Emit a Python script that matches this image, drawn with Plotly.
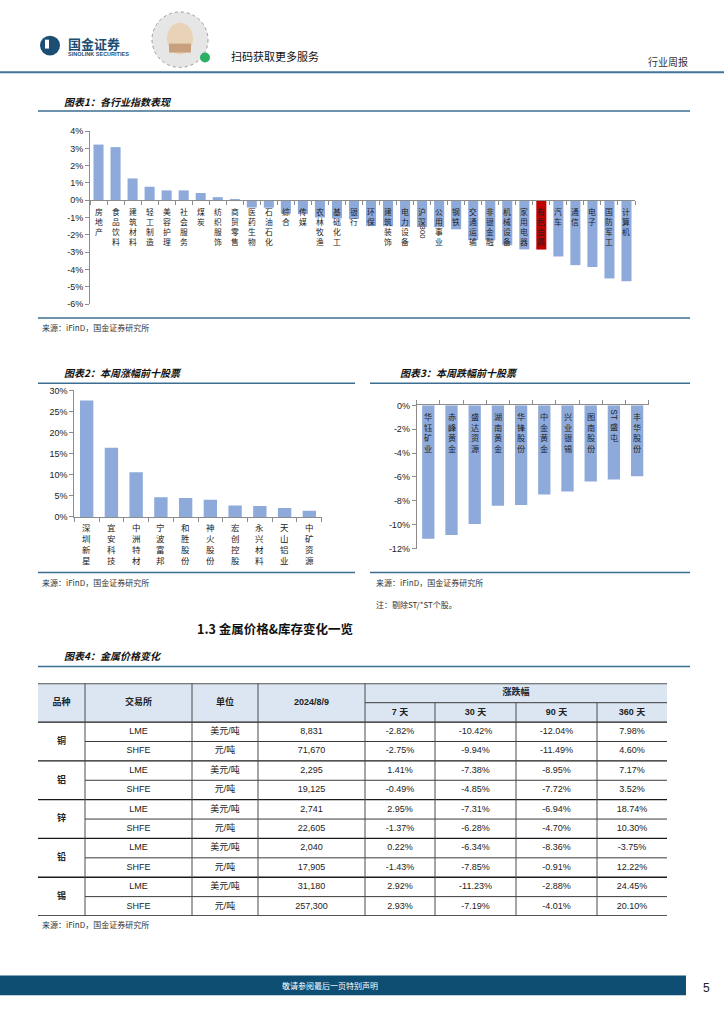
import re
import plotly.graph_objects as go

W, H = 724, 1024

# ---------------- data ----------------
ind_names = ["房地产", "食品饮料", "建筑材料", "轻工制造", "美容护理", "社会服务", "煤炭", "纺织服饰",
             "商贸零售", "医药生物", "石油石化", "综合", "传媒", "农林牧渔", "基础化工", "银行",
             "环保", "建筑装饰", "电力设备", "沪深300", "公用事业", "钢铁", "交通运输", "非银金融",
             "机械设备", "家用电器", "有色金属", "汽车", "通信", "电子", "国防军工", "计算机"]
ind_values = [3.22, 3.07, 1.26, 0.78, 0.57, 0.57, 0.42, 0.18,
              0.06, -0.42, -0.43, -0.78, -0.80, -1.00, -1.05, -1.08,
              -1.48, -1.50, -1.54, -1.55, -1.56, -1.68, -2.30, -2.31,
              -2.60, -2.84, -2.85, -3.25, -3.75, -3.86, -4.52, -4.68]
highlight_name = "有色金属"
ind_ticks = [4, 3, 2, 1, 0, -1, -2, -3, -4, -5, -6]

up_names = ["深圳新星", "宜安科技", "中洲特材", "宁波富邦", "和胜股份", "神火股份", "宏创控股",
            "永兴材料", "天山铝业", "中矿资源"]
up_values = [27.6, 16.4, 10.6, 4.7, 4.5, 4.1, 2.7, 2.6, 2.1, 1.5]
up_ticks = [0, 5, 10, 15, 20, 25, 30]

down_names = ["华钰矿业", "赤峰黄金", "盛达资源", "湖南黄金", "华锋股份", "中金黄金", "兴业银锡",
              "图南股份", "ST盛屯", "丰华股份"]
down_values = [-11.17, -10.85, -9.93, -8.40, -8.35, -7.46, -7.22, -6.38, -6.22, -5.93]
down_ticks = [0, -2, -4, -6, -8, -10, -12]

metals = ["铜", "铝", "锌", "铅", "锡"]
exchanges = ["LME", "SHFE", "LME", "SHFE", "LME", "SHFE", "LME", "SHFE", "LME", "SHFE"]
units = ["美元/吨", "元/吨", "美元/吨", "元/吨", "美元/吨", "元/吨", "美元/吨", "元/吨", "美元/吨", "元/吨"]
prices = [8831, 71670, 2295, 19125, 2741, 22605, 2040, 17905, 31180, 257300]
chg_7d = [-2.82, -2.75, 1.41, -0.49, 2.95, -1.37, 0.22, -1.43, 2.92, 2.93]
chg_30d = [-10.42, -9.94, -7.38, -4.85, -7.31, -6.28, -6.34, -7.85, -11.23, -7.19]
chg_90d = [-12.04, -11.49, -8.95, -7.72, -6.94, -4.70, -8.36, -0.91, -2.88, -4.01]
chg_360d = [7.98, 4.60, 7.17, 3.52, 18.74, 10.30, -3.75, 12.22, 24.45, 20.10]
head_left = ["品种", "交易所", "单位", "2024/8/9"]
head_group = "涨跌幅"
head_periods = ["7 天", "30 天", "90 天", "360 天"]

# ---------------- helpers ----------------
CJK = "Noto Sans CJK SC"
LAT = "Liberation Sans, Noto Sans CJK SC"
BAR = "#8EAADB"
RED = "#C00000"
LINE_BLUE = "#3C6E91"
AXC = "#8C8C8C"
TXT = "#222222"


def px(x):
    return x / W


def py(y):
    return 1 - y / H


fig = go.Figure()
shapes = []
anns = []


def hline(y, x0, x1, color=LINE_BLUE, width=1.5):
    shapes.append(dict(type="line", xref="paper", yref="paper", x0=px(x0), x1=px(x1),
                       y0=py(y), y1=py(y), line=dict(color=color, width=width)))


def text(x, y, s, size=9, color=TXT, anchor="left", bold=False, italic=False, family=CJK):
    f = dict(size=size, color=color, family=family)
    if bold:
        f["weight"] = "bold"
    if italic:
        f["style"] = "italic"
    anns.append(dict(x=px(x), y=py(y), xref="paper", yref="paper", text=s, showarrow=False,
                     xanchor=anchor, yanchor="middle", font=f))


def vlabels(names, xref, yref, offset, size, color=TXT):
    """Vertical (stacked) category labels hanging below the zero line."""
    lh = 1.3 * size
    for n in names:
        tokens = re.findall(r"[A-Za-z0-9]+|[^A-Za-z0-9]+", n)
        top = offset - lh / 2  # top of the first character cell
        for t in tokens:
            if t.isascii():
                w = len(t) * size * 0.62
                anns.append(dict(x=n, y=0, xref=xref, yref=yref, text=t, textangle=90,
                                 showarrow=False, yanchor="middle", xanchor="center", borderpad=0,
                                 yshift=-(top + w / 2), font=dict(size=size, color=color, family=LAT)))
                top += w
            else:
                anns.append(dict(x=n, y=0, xref=xref, yref=yref, text="<br>".join(t), showarrow=False,
                                 yanchor="top", xanchor="center", borderpad=0, yshift=-top,
                                 font=dict(size=size, color=color, family=CJK)))
                top += len(t) * lh


# ---------------- header ----------------
hline(68, 0, 724, color="#3F7398", width=2)
shapes.append(dict(type="circle", xref="paper", yref="paper", x0=px(40), x1=px(60), y0=py(51), y1=py(31),
                   fillcolor="#1B4E72", line=dict(width=0)))
shapes.append(dict(type="rect", xref="paper", yref="paper", x0=px(45), x1=px(49), y0=py(44), y1=py(35),
                   fillcolor="white", line=dict(width=0)))
text(66, 39, "国金证券", size=13, color="#1B4E72", bold=True)
text(66, 49, "SINOLINK SECURITIES", size=5.5, color="#1B4E72", bold=True, family=LAT)
# QR-like badge
shapes.append(dict(type="circle", xref="paper", yref="paper", x0=px(152), x1=px(208), y0=py(63), y1=py(7),
                   fillcolor="#E6E6E6", line=dict(color="#9A9A9A", width=1, dash="dot")))
shapes.append(dict(type="circle", xref="paper", yref="paper", x0=px(167), x1=px(193), y0=py(50), y1=py(18),
                   fillcolor="#E9D3B8", line=dict(width=0)))
shapes.append(dict(type="rect", xref="paper", yref="paper", x0=px(169), x1=px(191), y0=py(48), y1=py(39),
                   fillcolor="#C9A07E", line=dict(width=0)))
shapes.append(dict(type="circle", xref="paper", yref="paper", x0=px(200), x1=px(210), y0=py(58), y1=py(48),
                   fillcolor="#2BB164", line=dict(width=0)))
text(229, 52, "扫码获取更多服务", size=11, color="#111111")
text(690, 57, "行业周报", size=10, color="#333333", anchor="right")

# ---------------- chart 1 ----------------
text(62, 97, "图表1：各行业指数表现", size=10, bold=True, italic=True, color="#111111")
hline(107, 38, 690)
hline(316, 38, 690)
text(40, 326, "来源：iFinD，国金证券研究所", size=8, color="#333333")

c1_ylo, c1_yhi = 302.0, 127.3
c1_dom = [py(c1_ylo), py(c1_yhi)]
c1_zero = c1_dom[0] + (0 - min(ind_ticks)) / (max(ind_ticks) - min(ind_ticks)) * (c1_dom[1] - c1_dom[0])
fig.add_trace(go.Bar(x=ind_names, y=ind_values, width=0.59, xaxis="x", yaxis="y",
                     marker=dict(color=[RED if n == highlight_name else BAR for n in ind_names], line=dict(width=0)),
                     hoverinfo="skip"))
vlabels(ind_names, "x", "y", offset=10, size=7.8)

# ---------------- chart 2 ----------------
text(62, 371, "图表2：本周涨幅前十股票", size=10, bold=True, italic=True, color="#111111")
hline(382, 38, 355)
hline(573, 38, 355)
text(40, 583, "来源：iFinD，国金证券研究所", size=8, color="#333333")
fig.add_trace(go.Bar(x=up_names, y=up_values, width=0.54, xaxis="x2", yaxis="y2",
                     marker=dict(color=BAR, line=dict(width=0)), hoverinfo="skip"))
vlabels(up_names, "x2", "y2", offset=9, size=8.5)

# ---------------- chart 3 ----------------
text(398, 371, "图表3：本周跌幅前十股票", size=10, bold=True, italic=True, color="#111111")
hline(382, 370, 690)
hline(573, 370, 690)
text(374, 583, "来源：iFinD，国金证券研究所", size=8, color="#333333")
text(374, 605, "注：剔除ST/*ST个股。", size=8, color="#333333")
fig.add_trace(go.Bar(x=down_names, y=down_values, width=0.53, xaxis="x3", yaxis="y3",
                     marker=dict(color=BAR, line=dict(width=0)), hoverinfo="skip"))
vlabels(down_names, "x3", "y3", offset=9, size=8.2)

# ---------------- section / table ----------------
text(275, 630, "1.3 金属价格&库存变化一览", size=12.5, bold=True, color="#111111", anchor="center")
text(62, 657, "图表4：金属价格变化", size=10, bold=True, italic=True, color="#111111")
hline(668, 38, 690)
text(40, 929, "来源：iFinD，国金证券研究所", size=8, color="#333333")

col_edges = [38, 85, 192, 258, 365, 435, 516, 597, 667]
n_rows = 2 + len(exchanges)
TX, TY = "x4", "y4"


def tshape(x0, x1, y0, y1, color="#3A3A3A", width=1, fill=None):
    d = dict(type="rect" if fill else "line", xref=TX, yref=TY, x0=x0, x1=x1, y0=y0, y1=y1,
             line=dict(color=color, width=width))
    if fill:
        d["fillcolor"] = fill
        d["line"] = dict(width=0)
        d["layer"] = "below"
    shapes.append(d)


tshape(col_edges[0], col_edges[-1], 0, 2, fill="#DCE6F2")
tshape(col_edges[0], col_edges[-1], 0, 0, color="#555555", width=2)
tshape(col_edges[4], col_edges[-1], 1, 1, color="#3A3A3A", width=1)
for r in range(2, n_rows + 1):
    if (r - 2) % 2 == 0:
        tshape(col_edges[0], col_edges[-1], r, r, color="#1A1A1A", width=1.3)
    else:
        tshape(col_edges[1], col_edges[-1], r, r, color="#3A3A3A", width=1)
for i, xe in enumerate(col_edges[1:-1], start=1):
    tshape(xe, xe, 1 if i >= 5 else 0, n_rows, color="#4A4A4A", width=1)

centers = [(col_edges[i] + col_edges[i + 1]) / 2 for i in range(len(col_edges) - 1)]
rows_y = [2.5 + i for i in range(len(exchanges))]
hdr_font = dict(size=9, color=TXT, family=LAT, weight="bold")
fig.add_trace(go.Scatter(x=centers[:4], y=[1, 1, 1, 1], text=head_left, mode="text", textfont=hdr_font,
                         xaxis=TX, yaxis=TY, hoverinfo="skip"))
fig.add_trace(go.Scatter(x=[(col_edges[4] + col_edges[-1]) / 2], y=[0.5], text=[head_group], mode="text",
                         textfont=hdr_font, xaxis=TX, yaxis=TY, hoverinfo="skip"))
fig.add_trace(go.Scatter(x=centers[4:], y=[1.5] * 4, text=head_periods, mode="text", textfont=hdr_font,
                         xaxis=TX, yaxis=TY, hoverinfo="skip"))
fig.add_trace(go.Scatter(x=[centers[0]] * len(metals), y=[3 + 2 * i for i in range(len(metals))], text=metals,
                         mode="text", textfont=hdr_font, xaxis=TX, yaxis=TY, hoverinfo="skip"))
body_font = dict(size=9, color=TXT, family=LAT)
columns = [exchanges, units, [f"{v:,}" for v in prices], [f"{v:.2f}%" for v in chg_7d],
           [f"{v:.2f}%" for v in chg_30d], [f"{v:.2f}%" for v in chg_90d], [f"{v:.2f}%" for v in chg_360d]]
for ci, col in enumerate(columns, start=1):
    fig.add_trace(go.Scatter(x=[centers[ci]] * len(col), y=rows_y, text=col, mode="text", textfont=body_font,
                             xaxis=TX, yaxis=TY, hoverinfo="skip"))

# ---------------- footer ----------------
shapes.append(dict(type="rect", xref="paper", yref="paper", x0=px(0), x1=px(686), y0=py(1000), y1=py(980),
                   fillcolor="#0D4E72", line=dict(width=0)))
text(330, 990, "敬请参阅最后一页特别声明", size=8, color="white", anchor="center")
text(706, 993, "5", size=12, color="#222222", anchor="center", family=LAT)

# ---------------- layout ----------------
tickfont = dict(size=9, color=TXT, family=LAT)
yax_common = dict(showgrid=False, zeroline=False, showline=True, linecolor=AXC, linewidth=1,
                  ticks="outside", ticklen=4, tickcolor=AXC, tickfont=tickfont, tickmode="array")
xax_common = dict(showgrid=False, zeroline=False, showline=True, linecolor=AXC, linewidth=1,
                  ticks="outside", ticklen=4, tickcolor=AXC, tickson="boundaries", showticklabels=False,
                  type="category")


def pct(ticks):
    return [f"{v}%" for v in ticks]


fig.update_layout(
    width=W, height=H, margin=dict(l=0, r=0, t=0, b=0),
    paper_bgcolor="white", plot_bgcolor="rgba(0,0,0,0)", showlegend=False,
    xaxis=dict(domain=[px(90), px(635)], anchor="free", position=c1_zero,
               range=[-0.5, len(ind_names) - 0.5], **xax_common),
    yaxis=dict(domain=c1_dom, range=[min(ind_ticks), max(ind_ticks)], tickvals=ind_ticks,
               ticktext=pct(ind_ticks), anchor="x", **yax_common),
    xaxis2=dict(domain=[px(74.3), px(321.7)], anchor="y2", range=[-0.5, len(up_names) - 0.5], **xax_common),
    yaxis2=dict(domain=[py(517), py(389.3)], anchor="x2", range=[min(up_ticks), max(up_ticks)],
                tickvals=up_ticks, ticktext=pct(up_ticks), **yax_common),
    xaxis3=dict(domain=[px(416.7), px(648.7)], anchor="y3", side="top",
                range=[-0.5, len(down_names) - 0.5], **xax_common),
    yaxis3=dict(domain=[py(549), py(404.3)], anchor="x3", range=[min(down_ticks), max(down_ticks)],
                tickvals=down_ticks, ticktext=pct(down_ticks), **yax_common),
    xaxis4=dict(domain=[px(col_edges[0]), px(col_edges[-1])], range=[col_edges[0], col_edges[-1]],
                visible=False, anchor="y4"),
    yaxis4=dict(domain=[py(920), py(685)], range=[n_rows, 0], visible=False, anchor="x4"),
    shapes=shapes, annotations=anns,
)

fig.write_html("out.html", config={"displayModeBar": False},
               post_script="document.body.style.margin='0px';")
